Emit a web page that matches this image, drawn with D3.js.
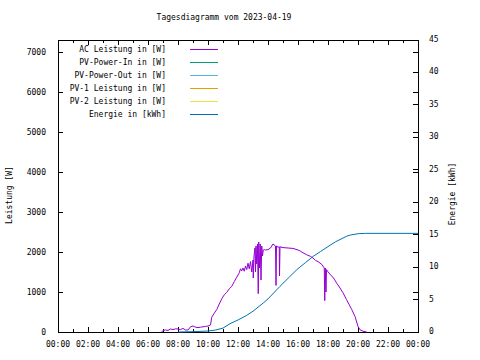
<!DOCTYPE html>
<html><head><meta charset="utf-8">
<script src="https://cdn.jsdelivr.net/npm/d3@7"></script>
<style>
html,body{margin:0;padding:0;background:#fff;}
svg text{font-family:"DejaVu Sans Mono",monospace;font-size:8px;fill:#000;}
</style></head>
<body><svg id="c" width="480" height="360"></svg>
<script>
const chartTitle = "Tagesdiagramm vom 2023-04-19";
const seriesNames = ["AC Leistung in [W]","PV-Power-In in [W]","PV-Power-Out in [W]","PV-1 Leistung in [W]","PV-2 Leistung in [W]","Energie in [kWh]"];
const seriesColors = ["#9400d3","#009e73","#56b4e9","#e69f00","#f0e442","#0072b2"];
const leftTicks = [0,1000,2000,3000,4000,5000,6000,7000];
const rightTicks = [0,5,10,15,20,25,30,35,40,45];

const acTimes = ["06:55","07:00","07:10","07:20","07:30","07:40","07:50","08:00","08:10","08:20","08:30","08:40","08:50","09:00","09:10","09:20","09:30","09:40","09:50","10:00","10:10","10:15","10:25","10:35","10:45","10:55","11:05","11:15","11:25","11:35","11:45","11:55","12:05","12:10","12:15","12:20","12:25","12:30","12:35","12:40","12:45","12:50","12:55","13:00","13:01","13:04","13:08","13:10","13:12","13:15","13:18","13:21","13:23","13:26","13:29","13:32","13:35","13:38","13:41","13:45","13:50","14:00","14:10","14:20","14:30","14:32","14:34","14:40","14:45","14:46","14:48","15:00","15:20","15:40","16:00","16:10","16:20","16:35","16:50","17:00","17:10","17:20","17:35","17:45","17:47","17:49","17:52","17:54","17:58","18:10","18:22","18:35","18:48","19:00","19:14","19:25","19:35","19:48","20:00","20:08","20:20","20:35"];
const acPower = [0,40,50,40,75,60,80,75,60,90,50,50,130,150,120,110,120,130,140,150,175,370,470,560,700,830,930,990,1080,1140,1260,1370,1480,1580,1530,1600,1520,1650,1560,1720,1580,1760,1500,1800,1350,1900,2100,1500,2150,1700,2200,960,2250,1600,2200,1300,2150,1900,2050,2060,2050,2060,2100,2200,2150,1165,2150,2120,2130,1400,2130,2110,2100,2090,2050,2020,1980,1930,1890,1850,1790,1760,1690,1600,785,1600,1000,1560,1520,1430,1350,1220,1100,980,810,680,560,390,140,55,20,0];

const pvInTimes = [], pvInPower = [];
const pvOutTimes = [], pvOutPower = [];
const pv1Times = [], pv1Power = [];
const pv2Times = [], pv2Power = [];

const energyTimes = ["08:00","09:00","10:00","10:30","11:00","11:28","12:00","12:35","13:00","13:41","14:00","14:48","15:00","15:55","16:30","17:01","17:30","18:08","18:30","19:14","19:30","20:01","20:30","24:00"];
const energyKWh = [0,0.05,0.15,0.3,0.6,1.28,1.85,2.57,3.2,4.47,5.1,7.04,7.5,9.6,10.7,11.66,12.4,13.36,13.9,14.75,14.95,15.15,15.2,15.2];

const day = new Date(2023,3,19);
function t(s){const [h,m]=s.split(":").map(Number);return new Date(day.getTime()+(h*60+m)*60000);}

const L=58,R=418,T=40,B=332;
const svg=d3.select("#c");
const x=d3.scaleTime().domain([day,new Date(day.getTime()+24*3600000)]).range([L,R]);
const y=d3.scaleLinear().domain([0,7300]).range([B,T]);
const y2=d3.scaleLinear().domain([0,45]).range([B,T]);

const g=svg.append("g").attr("shape-rendering","crispEdges");
// ticks
const major=x.ticks(d3.timeHour.every(2));
const minor=x.ticks(d3.timeHour.every(1)).filter(d=>d.getHours()%2===1);
major.forEach(d=>{
  g.append("line").attr("x1",x(d)).attr("x2",x(d)).attr("y1",B).attr("y2",B-5).attr("stroke","#000");
  g.append("line").attr("x1",x(d)).attr("x2",x(d)).attr("y1",T).attr("y2",T+5).attr("stroke","#000");
  svg.append("text").attr("x",x(d)).attr("y",347).attr("text-anchor","middle").text(d3.timeFormat("%H:%M")(d));
});
minor.forEach(d=>{
  g.append("line").attr("x1",x(d)).attr("x2",x(d)).attr("y1",B).attr("y2",B-3).attr("stroke","#000");
  g.append("line").attr("x1",x(d)).attr("x2",x(d)).attr("y1",T).attr("y2",T+3).attr("stroke","#000");
});
leftTicks.forEach(v=>{
  g.append("line").attr("x1",L).attr("x2",L+5).attr("y1",y(v)).attr("y2",y(v)).attr("stroke","#000");
  g.append("line").attr("x1",R).attr("x2",R-5).attr("y1",y(v)).attr("y2",y(v)).attr("stroke","#000");
  svg.append("text").attr("x",46).attr("y",y(v)+3).attr("text-anchor","end").text(v);
});
rightTicks.forEach(v=>{
  g.append("line").attr("x1",R).attr("x2",R-5).attr("y1",y2(v)).attr("y2",y2(v)).attr("stroke","#000");
  svg.append("text").attr("x",429).attr("y",y2(v)+2).attr("text-anchor","start").text(v);
});
g.append("rect").attr("x",L).attr("y",T).attr("width",R-L).attr("height",B-T).attr("fill","none").attr("stroke","#000");

svg.append("text").attr("x",224).attr("y",20).attr("text-anchor","middle").text(chartTitle);
svg.append("text").attr("transform","translate(12,195) rotate(-90)").attr("text-anchor","middle").text("Leistung [W]");
svg.append("text").attr("transform","translate(455,194) rotate(-90)").attr("text-anchor","middle").text("Energie [kWh]");

// series
const powerSeries=[[acTimes,acPower],[pvInTimes,pvInPower],[pvOutTimes,pvOutPower],[pv1Times,pv1Power],[pv2Times,pv2Power]];
const lineP=d3.line().x(d=>x(d[0])).y(d=>y(d[1]));
const lineE=d3.line().x(d=>x(d[0])).y(d=>y2(d[1]));
const dg=svg.append("g");
powerSeries.forEach((s,i)=>{
  const data=s[0].map((tt,j)=>[t(tt),s[1][j]]);
  if(data.length) dg.append("path").attr("d",lineP(data)).attr("fill","none").attr("stroke",seriesColors[i]).attr("stroke-width",1);
});
const eData=energyTimes.map((tt,j)=>[t(tt),energyKWh[j]]);
dg.append("path").attr("d",lineE(eData)).attr("fill","none").attr("stroke",seriesColors[5]).attr("stroke-width",1);

// legend
seriesNames.forEach((n,i)=>{
  const yy=49+i*13;
  svg.append("text").attr("x",166).attr("y",yy+3).attr("text-anchor","end").text(n);
  g.append("line").attr("x1",190).attr("x2",218).attr("y1",yy).attr("y2",yy).attr("stroke",seriesColors[i]);
});
</script></body></html>
